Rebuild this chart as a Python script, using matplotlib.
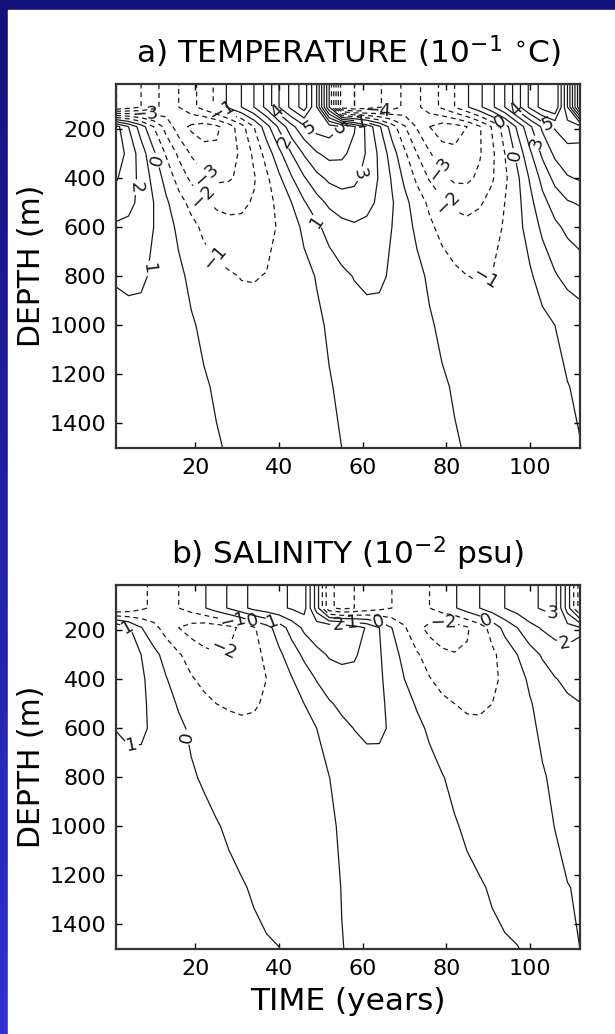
import numpy as np
import matplotlib
matplotlib.use('Agg')
import matplotlib.pyplot as plt
from matplotlib.patches import Rectangle

plt.rcParams['font.family'] = ['DejaVu Sans']

# time axis (years) and depth levels (m) of the gridded anomalies
TIME = [1, 4, 7, 10, 13, 16, 19, 22, 25, 28, 31, 34, 37, 40, 43, 46, 49, 52, 55,
        58, 61, 64, 67, 70, 73, 76, 79, 82, 85, 88, 91, 94, 97, 100, 103, 106, 109, 112]
DEPTH = [10, 110, 190, 300, 400, 500, 600, 800, 1000, 1250, 1500]

# temperature anomaly, 10^-1 C  (mixed layer row used for 10 m and 110 m)
temp_mixed = [-6.0, -5.5, -5.0, -4.3, -3.6, -3.0, -2.3, -1.6, -0.8, 0.2, 1.0, 2.0, 3.3, 5.0, 6.3, 7.5, 5.0, 0.0, -5.5,
              -6.0, -5.6, -5.1, -4.5, -3.8, -3.2, -2.5, -1.8, -1.0, -0.1, 0.8, 1.8, 3.0, 4.6, 6.2, 7.4, 8.0, 4.0, -1.0]
temp_190 = [3.4, 2.0, 0.5, -1.0, -2.4, -3.5, -4.2, -4.5, -4.2, -3.5, -2.4, -1.0, 0.6, 2.2, 3.7, 4.8, 5.4, 5.5, 5.0,
            4.1, 2.75, 1.15, -0.5, -1.9, -3.1, -4.0, -4.5, -4.4, -4.0, -3.1, -1.9, -0.5, 1.2, 2.8, 4.2, 5.1, 5.5, 5.3]
temp_300 = [3.6, 2.7, 1.5, 0.2, -1.1, -2.2, -3.1, -3.6, -3.8, -3.5, -2.8, -1.8, -0.6, 0.7, 2.0, 3.1, 3.9, 4.3, 4.2,
            3.7, 2.9, 1.8, 0.5, -0.8, -2.0, -2.9, -3.6, -3.8, -3.6, -3.1, -2.2, -1.0, 0.3, 1.8, 3.2, 4.2, 4.7, 4.8]
temp_400 = [3.1, 2.5, 1.7, 0.7, -0.35, -1.4, -2.2, -2.85, -3.2, -3.1, -2.8, -2.1, -1.2, -0.2, 0.9, 1.9, 2.7, 3.2, 3.4,
            3.2, 2.7, 1.9, 0.9, -0.2, -1.2, -2.1, -2.8, -3.2, -3.2, -2.8, -2.1, -1.2, -0.2, 1.1, 2.3, 3.3, 3.9, 4.1]
temp_500 = [2.5, 2.3, 1.7, 1.0, 0.15, -0.6, -1.3, -1.8, -2.2, -2.3, -2.2, -1.9, -1.4, -0.7, 0.0, 0.9, 1.6, 2.2, 2.5,
            2.6, 2.3, 1.8, 1.1, 0.3, -0.5, -1.2, -1.8, -2.2, -2.3, -2.1, -1.7, -1.0, -0.3, 0.7, 1.7, 2.4, 2.9, 3.1]
temp_600 = [1.85, 1.75, 1.45, 1.0, 0.4, -0.2, -0.7, -1.2, -1.5, -1.7, -1.75, -1.6, -1.3, -0.9, -0.4, 0.2, 0.8, 1.35, 1.7,
            1.85, 1.75, 1.5, 1.0, 0.4, -0.2, -0.8, -1.3, -1.6, -1.75, -1.65, -1.35, -0.9, -0.3, 0.4, 1.2, 1.8, 2.2, 2.4]
temp_800 = [1.1, 1.15, 1.1, 0.9, 0.55, 0.2, -0.2, -0.5, -0.75, -0.9, -1.03, -1.04, -0.97, -0.8, -0.57, -0.27, 0.05, 0.46, 0.8,
            1.04, 1.15, 1.1, 0.92, 0.63, 0.25, -0.15, -0.5, -0.8, -0.99, -1.05, -0.98, -0.78, -0.48, -0.13, 0.38, 0.9, 1.3, 1.55]
temp_1000 = [0.64, 0.77, 0.8, 0.74, 0.58, 0.36, 0.09, -0.15, -0.36, -0.55, -0.67, -0.74, -0.74, -0.67, -0.54, -0.36, -0.15, 0.1, 0.37,
             0.6, 0.75, 0.8, 0.75, 0.6, 0.37, 0.1, -0.16, -0.38, -0.57, -0.7, -0.75, -0.72, -0.62, -0.46, -0.24, 0.0, 0.21, 0.4]
temp_1250 = [0.34, 0.46, 0.53, 0.55, 0.5, 0.4, 0.25, 0.08, -0.08, -0.21, -0.33, -0.41, -0.45, -0.44, -0.39, -0.31, -0.19, -0.05, 0.12,
             0.29, 0.43, 0.52, 0.55, 0.51, 0.42, 0.28, 0.1, -0.07, -0.21, -0.32, -0.41, -0.45, -0.44, -0.39, -0.29, -0.17, -0.02, 0.09]
temp_1500 = [0.17, 0.27, 0.35, 0.39, 0.4, 0.36, 0.28, 0.18, 0.06, -0.06, -0.17, -0.26, -0.32, -0.35, -0.34, -0.29, -0.21, -0.11, 0.0,
             0.13, 0.24, 0.34, 0.39, 0.4, 0.37, 0.29, 0.19, 0.07, -0.06, -0.16, -0.26, -0.32, -0.35, -0.34, -0.29, -0.22, -0.11, -0.02]

# salinity anomaly, 10^-2 psu
salt_mixed = [-3.0, -2.7, -2.2, -1.8, -1.4, -1.0, -0.6, -0.1, 0.5, 1.1, 1.7, 2.3, 2.6, 2.8, 3.1, 3.4, 0.5, -2.8, -3.3,
              -3.0, -2.6, -2.3, -2.0, -1.7, -1.3, -1.0, -0.5, -0.1, 0.5, 1.0, 1.5, 2.0, 2.4, 2.8, 3.1, 3.3, 0.5, -2.5]
salt_190 = [2.0, 1.15, 0.05, -0.7, -1.4, -2.0, -2.4, -2.6, -2.5, -2.3, -1.8, -1.1, -0.4, 0.5, 1.4, 2.2, 2.7, 3.0, 2.9,
            2.5, 1.9, 1.0, 0.0, -0.9, -1.7, -2.3, -2.6, -2.5, -2.1, -1.5, -0.6, 0.3, 1.0, 1.7, 2.1, 2.4, 2.4, 2.1]
salt_300 = [2.0, 1.6, 1.0, 0.3, -0.35, -0.9, -1.4, -1.75, -1.95, -1.9, -1.7, -1.3, -0.8, -0.2, 0.5, 1.2, 1.7, 2.1, 2.2,
            2.1, 1.7, 1.1, 0.4, -0.3, -0.9, -1.4, -1.8, -1.95, -1.9, -1.65, -1.2, -0.6, 0.0, 0.6, 1.1, 1.5, 1.75, 1.8]
salt_400 = [1.75, 1.55, 1.15, 0.65, 0.05, -0.45, -0.9, -1.25, -1.5, -1.6, -1.55, -1.3, -1.0, -0.55, -0.06, 0.5, 1.05, 1.5, 1.7,
            1.75, 1.5, 1.15, 0.6, 0.0, -0.5, -0.95, -1.3, -1.55, -1.6, -1.5, -1.2, -0.8, -0.35, 0.15, 0.6, 0.95, 1.2, 1.3]
salt_500 = [1.4, 1.35, 1.15, 0.8, 0.35, -0.1, -0.45, -0.75, -1.0, -1.1, -1.15, -1.08, -0.9, -0.65, -0.35, 0.0, 0.5, 0.9, 1.2,
            1.4, 1.35, 1.15, 0.8, 0.35, -0.1, -0.47, -0.8, -1.0, -1.14, -1.13, -1.0, -0.76, -0.44, -0.07, 0.29, 0.6, 0.85, 0.98]
salt_600 = [1.03, 1.15, 1.1, 0.9, 0.58, 0.18, -0.14, -0.38, -0.59, -0.74, -0.83, -0.85, -0.79, -0.66, -0.47, -0.24, 0.0, 0.43, 0.78,
            1.02, 1.15, 1.1, 0.92, 0.62, 0.22, -0.14, -0.42, -0.65, -0.8, -0.85, -0.8, -0.66, -0.43, -0.15, 0.13, 0.38, 0.58, 0.71]
salt_800 = [0.54, 0.71, 0.8, 0.76, 0.62, 0.38, 0.1, -0.1, -0.26, -0.39, -0.48, -0.54, -0.55, -0.51, -0.43, -0.31, -0.17, -0.01, 0.26,
            0.5, 0.68, 0.78, 0.79, 0.7, 0.54, 0.3, 0.04, -0.18, -0.36, -0.49, -0.55, -0.52, -0.43, -0.26, -0.06, 0.12, 0.27, 0.37]
salt_1000 = [0.26, 0.41, 0.53, 0.59, 0.59, 0.52, 0.4, 0.24, 0.05, -0.1, -0.22, -0.32, -0.38, -0.4, -0.38, -0.31, -0.21, -0.09, 0.07,
             0.25, 0.41, 0.53, 0.59, 0.59, 0.53, 0.41, 0.25, 0.06, -0.11, -0.25, -0.36, -0.4, -0.38, -0.29, -0.15, 0.01, 0.1, 0.17]
salt_1250 = [0.12, 0.22, 0.3, 0.36, 0.39, 0.4, 0.38, 0.33, 0.25, 0.16, 0.05, -0.06, -0.18, -0.26, -0.3, -0.28, -0.22, -0.12, 0.01,
             0.12, 0.21, 0.3, 0.36, 0.39, 0.4, 0.38, 0.33, 0.26, 0.16, 0.06, -0.06, -0.19, -0.28, -0.3, -0.25, -0.15, -0.01, 0.03]
salt_1500 = [0.05, 0.1, 0.15, 0.19, 0.22, 0.24, 0.25, 0.25, 0.23, 0.2, 0.16, 0.12, 0.06, 0.01, -0.1, -0.19, -0.19, -0.13, -0.01,
             0.05, 0.1, 0.15, 0.19, 0.22, 0.24, 0.25, 0.25, 0.23, 0.2, 0.17, 0.12, 0.07, 0.02, -0.09, -0.18, -0.19, -0.12, 0.0]

temp = np.array([temp_mixed, temp_mixed, temp_190, temp_300, temp_400, temp_500, temp_600,
                 temp_800, temp_1000, temp_1250, temp_1500])
salt = np.array([salt_mixed, salt_mixed, salt_190, salt_300, salt_400, salt_500, salt_600,
                 salt_800, salt_1000, salt_1250, salt_1500])

# where the contour labels sit (time, depth)
temp_label_pos = [(8, 142), (26.6, 114), (39.8, 122), (11, 326), (4.8, 436), (7.7, 766),
                  (24.2, 359), (23, 460), (25.6, 710), (42, 245), (47.4, 196), (54, 196),
                  (59.8, 171), (63.7, 130), (57.7, 375), (49.8, 567), (81, 338), (82.6, 469),
                  (88, 780), (92.9, 171), (96.9, 114), (96.9, 306), (104, 196), (102.4, 253)]
salt_label_pos = [(3.6, 200), (29, 160), (33.8, 160), (38.6, 160), (26.6, 277), (4.6, 657),
                  (17.8, 637), (54, 216), (57.5, 167), (64, 155), (79, 200), (89.7, 160),
                  (105, 155), (108.8, 228)]


def fmt_label(v):
    return f'{v:.0f}'.replace('-', '\u2212')


def draw_panel(ax, field, levels, title, label_pos):
    styles = [(0, (4, 3)) if lv < 0 else 'solid' for lv in levels]
    cs = ax.contour(TIME, DEPTH, field, levels=levels, colors='#1a1a1a',
                    linewidths=0.9, linestyles=styles)
    ax.clabel(cs, fmt=fmt_label, fontsize=13, inline=True, inline_spacing=2,
              manual=label_pos)
    ax.set_xlim(1, 112)
    ax.set_ylim(1500, 16)
    ax.set_xticks([20, 40, 60, 80, 100])
    ax.set_yticks([200, 400, 600, 800, 1000, 1200, 1400])
    ax.tick_params(direction='in', length=4, width=1, top=True, right=True,
                   labelsize=16, pad=7)
    for sp in ax.spines.values():
        sp.set_linewidth(1.6)
        sp.set_color('#333333')
    ax.set_title(title, fontsize=22.5, pad=15)
    ax.set_ylabel('DEPTH (m)', fontsize=21.5)
    ax.yaxis.set_label_coords(-0.15, 0.5)


fig = plt.figure(figsize=(6.15, 10.34), dpi=100)

# slide background: blue gradient with a white sheet on it
bg = fig.add_axes([0, 0, 1, 1])
grad = np.linspace(0, 1, 256).reshape(-1, 1)
bg.imshow(grad, aspect='auto', extent=[0, 1, 0, 1], origin='upper',
          cmap=matplotlib.colors.LinearSegmentedColormap.from_list('bl', ['#15117a', '#2f30cf']))
bg.add_patch(Rectangle((8 / 615, 0), 1, 1 - 10 / 1034, color='white'))
bg.set_xlim(0, 1)
bg.set_ylim(0, 1)
bg.axis('off')

ax1 = fig.add_axes([116 / 615, 1 - 448 / 1034, 464 / 615, 364 / 1034])
ax2 = fig.add_axes([116 / 615, 1 - 949 / 1034, 464 / 615, 364 / 1034])

draw_panel(ax1, temp, np.arange(-8, 9), 'a) TEMPERATURE (10$^{-1}$ $^{\\circ}$C)', temp_label_pos)
draw_panel(ax2, salt, np.arange(-4, 5), 'b) SALINITY (10$^{-2}$ psu)', salt_label_pos)
ax2.set_xlabel('TIME (years)', fontsize=22.5)
ax2.xaxis.set_label_coords(0.5, -0.105)

fig.savefig('out.png', dpi=100)
